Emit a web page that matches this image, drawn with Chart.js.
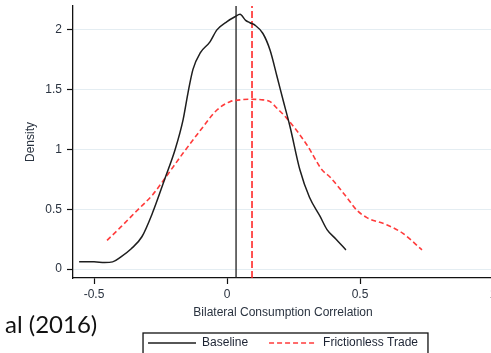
<!DOCTYPE html>
<html>
<head>
<meta charset="utf-8">
<script src="https://cdn.jsdelivr.net/npm/chart.js@4.4.1/dist/chart.umd.min.js"></script>
<style>
  html, body { margin: 0; padding: 0; overflow: hidden; background: #fff; }
  #wrap { position: relative; width: 491px; height: 353px; overflow: hidden; }
  #density-canvas { position: absolute; left: 0; top: 0; }
  #cite { position: absolute; left: 5px; top: 309px; font-family: Lato, "Liberation Sans", sans-serif; font-size: 24px; color: #111; }
</style>
</head>
<body>
<div id="wrap">
  <canvas id="density-canvas" width="566" height="360"></canvas>
  <div id="cite">al (2016)</div>
</div>
<script>
// kernel density, baseline model
const baseX = [-0.556, -0.50, -0.46, -0.43, -0.40, -0.36, -0.32, -0.28, -0.233, -0.195, -0.165, -0.147, -0.128, -0.10, -0.064, -0.038, 0.0, 0.03, 0.049, 0.07, 0.086, 0.105, 0.135, 0.162, 0.188, 0.21, 0.237, 0.274, 0.31, 0.35, 0.376, 0.41, 0.447];
const baseY = [0.06, 0.06, 0.055, 0.06, 0.10, 0.17, 0.27, 0.47, 0.76, 1.0, 1.25, 1.47, 1.67, 1.81, 1.90, 2.0, 2.07, 2.11, 2.13, 2.08, 2.06, 2.04, 1.97, 1.83, 1.61, 1.42, 1.19, 0.83, 0.6, 0.44, 0.33, 0.25, 0.16];
// kernel density, frictionless trade
const fricX = [-0.451, -0.40, -0.338, -0.28, -0.233, -0.165, -0.10, -0.038, 0.011, 0.05, 0.086, 0.135, 0.162, 0.19, 0.225, 0.30, 0.357, 0.387, 0.45, 0.489, 0.526, 0.60, 0.66, 0.733];
const fricY = [0.24, 0.35, 0.49, 0.62, 0.76, 0.97, 1.16, 1.33, 1.40, 1.415, 1.42, 1.415, 1.40, 1.34, 1.26, 1.04, 0.83, 0.77, 0.60, 0.49, 0.43, 0.37, 0.30, 0.16];
// means (vertical lines)
const baseMean = 0.034;
const fricMean = 0.094;
const xMin = -0.579, xMax = 1.0;
const yMin = -0.075, yMax = 2.2;

const toPts = (xs, ys) => xs.map((x, i) => ({x: x, y: ys[i]}));
const fmt = (v) => String(Math.round(v * 100) / 100);

Chart.defaults.font.family = '"Liberation Sans", Arial, sans-serif';
Chart.defaults.font.size = 12;
Chart.defaults.color = '#2a3340';

// box round the legend, like Stata
const legendBorder = {
    id: 'legendBorder',
    afterDraw(chart) {
        const lg = chart.legend;
        if (!lg || !lg.legendHitBoxes.length) return;
        const hb = lg.legendHitBoxes;
        const last = hb[hb.length - 1];
        const ctx = chart.ctx;
        ctx.save();
        ctx.strokeStyle = '#111';
        ctx.lineWidth = 1.3;
        ctx.strokeRect(hb[0].left - 5, hb[0].top - 4, last.left + last.width + 10 - (hb[0].left - 5), 24);
        ctx.restore();
    }
};

const density_config = {
    type: 'line',
    data: {
        datasets: [
            {
                label: 'Baseline',
                data: toPts(baseX, baseY),
                borderColor: '#1e1e1e',
                backgroundColor: 'transparent',
                borderWidth: 1.5,
                pointRadius: 0,
                pointStyle: 'line',
                cubicInterpolationMode: 'monotone'
            },
            {
                label: 'Frictionless Trade',
                data: toPts(fricX, fricY),
                borderColor: '#ff3b3b',
                backgroundColor: 'transparent',
                borderWidth: 1.6,
                borderDash: [5, 3],
                pointRadius: 0,
                pointStyle: 'line',
                cubicInterpolationMode: 'monotone'
            },
            {
                label: 'baseline mean',
                data: [{x: baseMean, y: yMin}, {x: baseMean, y: yMax}],
                borderColor: '#1e1e1e',
                borderWidth: 1.3,
                pointRadius: 0
            },
            {
                label: 'frictionless mean',
                data: [{x: fricMean, y: yMin}, {x: fricMean, y: yMax}],
                borderColor: '#ff1a1a',
                borderWidth: 1.5,
                borderDash: [7, 3],
                pointRadius: 0
            }
        ]
    },
    options: {
        responsive: false,
        animation: false,
        layout: {
            padding: {left: 0, right: 73, top: 6, bottom: 1}
        },
        plugins: {
            legend: {
                display: true,
                position: 'bottom',
                fullSize: false,
                labels: {
                    usePointStyle: true,
                    pointStyle: 'line',
                    pointStyleWidth: 48,
                    boxWidth: 48,
                    boxHeight: 12,
                    padding: 21,
                    color: '#1c2333',
                    filter: (item) => item.datasetIndex < 2,
                    generateLabels: (chart) => {
                        const items = Chart.defaults.plugins.legend.labels.generateLabels(chart);
                        items.forEach((it) => {
                            const ds = chart.data.datasets[it.datasetIndex];
                            it.lineDash = ds.borderDash || [];
                            it.lineWidth = 1.5;
                            it.strokeStyle = ds.borderColor;
                        });
                        return items;
                    }
                }
            },
            tooltip: {enabled: false}
        },
        scales: {
            x: {
                type: 'linear',
                min: xMin,
                max: xMax,
                afterFit: (s) => { s.height = 38; s.paddingLeft = 0; s.paddingRight = 0; },
                ticks: {
                    stepSize: 0.5,
                    includeBounds: false,
                    padding: 3,
                    maxRotation: 0,
                    callback: fmt
                },
                grid: {
                    drawOnChartArea: false,
                    drawTicks: true,
                    tickLength: 6,
                    tickColor: '#111',
                    tickWidth: 1.2
                },
                border: {color: '#111', width: 1.3},
                title: {
                    display: true,
                    text: 'Bilateral Consumption Correlation',
                    padding: {top: 0, bottom: -4}
                }
            },
            y: {
                min: yMin,
                max: yMax,
                afterFit: (s) => { s.width = 73; s.paddingTop = 0; s.paddingBottom = 0; },
                ticks: {
                    stepSize: 0.5,
                    includeBounds: false,
                    padding: 5,
                    callback: fmt
                },
                grid: {
                    color: '#e4edf2',
                    lineWidth: 1,
                    tickLength: 6,
                    tickColor: '#111',
                    tickWidth: 1.2
                },
                border: {color: '#111', width: 1.3},
                title: {
                    display: true,
                    text: 'Density',
                    padding: {top: 23, bottom: 0}
                }
            }
        }
    },
    plugins: [legendBorder]
};

const density_ctx = document.getElementById('density-canvas');
new Chart(density_ctx, density_config);
</script>
</body>
</html>
